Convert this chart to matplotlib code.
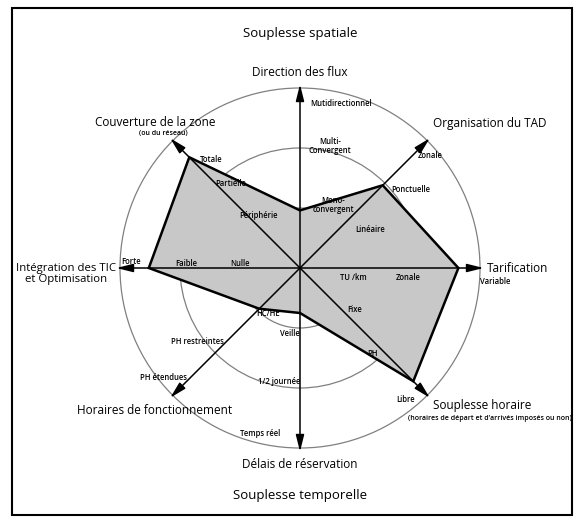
import numpy as np
import matplotlib.pyplot as plt
from matplotlib.patches import Circle, Polygon, Rectangle

plt.rcParams['font.family'] = ['Open Sans', 'DejaVu Sans']

# axes, counter-clockwise from the right (degrees)
angles = [0, 45, 90, 135, 180, 225, 270, 315]
axis_names = ["Tarification", "Organisation du TAD", "Direction des flux",
              "Couverture de la zone", "Intégration des TIC\net Optimisation",
              "Horaires de fonctionnement", "Délais de réservation",
              "Souplesse horaire"]
# polygon values (1 = outer circle)
values = [0.88, 0.65, 0.32, 0.87, 0.84, 0.32, 0.25, 0.89]
rings = [1/3, 2/3, 1.0]

# level labels along each axis: (text, x, y, ha)
level_labels = [
    ("Mutidirectionnel", 310, 104, 'left'),
    ("Multi-\nConvergent", 330, 146, 'center'),
    ("Mono-\nconvergent", 333, 205, 'center'),
    ("Zonale", 430, 156, 'center'),
    ("Ponctuelle", 411, 190, 'center'),
    ("Linéaire", 370, 230, 'center'),
    ("Totale", 211, 160, 'center'),
    ("Partielle", 231, 183, 'center'),
    ("Périphérie", 258, 216, 'center'),
    ("Forte", 131, 261, 'center'),
    ("Faible", 186, 263, 'center'),
    ("Nulle", 240, 263, 'center'),
    ("TU /km", 353, 277, 'center'),
    ("Zonale", 408, 277, 'center'),
    ("Variable", 495, 282, 'center'),
    ("Fixe", 355, 310, 'center'),
    ("PH", 373, 353, 'center'),
    ("Libre", 406, 400, 'center'),
    ("HC/HE", 268, 313, 'center'),
    ("Veille", 290, 333, 'center'),
    ("PH restreintes", 197, 341, 'center'),
    ("1/2 journée", 279, 381, 'center'),
    ("PH étendues", 164, 378, 'center'),
    ("Temps réel", 260, 433, 'center'),
]

CX, CY, R = 300, 268, 180

fig = plt.figure(figsize=(5.84, 5.22), dpi=100)
ax = fig.add_axes([0, 0, 1, 1])
ax.set_xlim(0, 584)
ax.set_ylim(522, 0)
ax.set_aspect('equal')
ax.axis('off')

ax.add_patch(Rectangle((12, 8), 560, 507, fill=False, ec='black', lw=1.5))

for r in rings:
    ax.add_patch(Circle((CX, CY), r * R, fill=False, ec='#808080', lw=0.9))

rad = np.radians(angles)
px = CX + np.array(values) * R * np.cos(rad)
py = CY - np.array(values) * R * np.sin(rad)
ax.add_patch(Polygon(np.column_stack([px, py]), closed=True,
                     fc='#c8c8c8', ec='black', lw=1.8, joinstyle='miter'))

for a in rad:
    tip = (CX + 1.02 * R * np.cos(a), CY - 1.02 * R * np.sin(a))
    ax.annotate("", xy=tip, xytext=(CX, CY),
                arrowprops=dict(arrowstyle='-|>,head_length=1.0,head_width=0.25',
                                color='black', lw=1.1, shrinkA=0, shrinkB=0))

for txt, x, y, ha in level_labels:
    ax.text(x, y, txt, fontsize=5.5, ha=ha, va='center', linespacing=1.1,
            fontweight='semibold')

# axis titles
ax.text(300, 72, axis_names[2], fontsize=8.5, ha='center', va='center')
ax.text(490, 123, axis_names[1], fontsize=8.5, ha='center', va='center')
ax.text(518, 268, axis_names[0], fontsize=8.5, ha='center', va='center')
ax.text(155, 123, axis_names[3], fontsize=8.5, ha='center', va='center')
ax.text(163, 134, "(ou du réseau)", fontsize=5, ha='center', va='center',
        fontweight='semibold')
ax.text(66, 274, axis_names[4], fontsize=8.2, ha='center', va='center',
        linespacing=1.0)
ax.text(155, 410, axis_names[5], fontsize=8.5, ha='center', va='center')
ax.text(300, 465, axis_names[6], fontsize=8.5, ha='center', va='center')
ax.text(482, 406, axis_names[7], fontsize=8.5, ha='center', va='center')
ax.text(490, 418, "(horaires de départ et d'arrivés imposés ou non)",
        fontsize=5, ha='center', va='center', fontweight='semibold')

ax.text(300, 33, "Souplesse spatiale", fontsize=9.5, ha='center', va='center')
ax.text(300, 495, "Souplesse temporelle", fontsize=9.5, ha='center', va='center')

fig.savefig("out.png", dpi=100)
